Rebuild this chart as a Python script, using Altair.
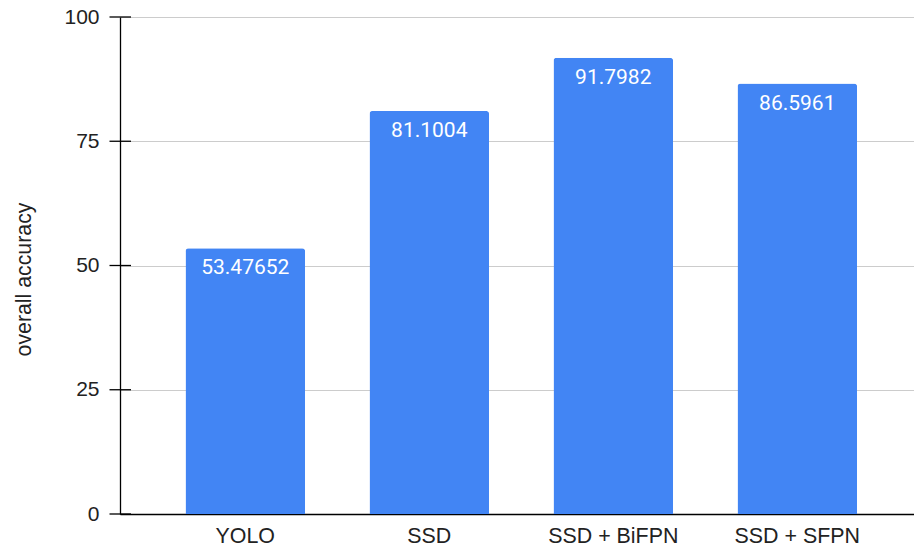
import altair as alt
import pandas as pd

# Model names and their overall accuracy
models = ["YOLO", "SSD", "SSD + BiFPN", "SSD + SFPN"]
accuracy = [53.47652, 81.1004, 91.7982, 86.5961]
value_labels = ["53.47652", "81.1004", "91.7982", "86.5961"]
y_ticks = [0, 25, 50, 75, 100]

df = pd.DataFrame({"model": models, "accuracy": accuracy, "label": value_labels})
ticks_df = pd.DataFrame({"v": y_ticks})

BLUE = "#4285F4"
AXIS_FONT = "Liberation Sans"

x_enc = alt.X(
    "model:N",
    sort=models,
    title=None,
    scale=alt.Scale(paddingInner=0.35, paddingOuter=0.3326, align=0.535),
    axis=alt.Axis(
        labelAngle=0,
        labelFont=AXIS_FONT,
        labelFontSize=21.4,
        labelColor="#222222",
        labelBaseline="alphabetic",
        labelPadding=28,
        ticks=False,
        tickSize=0,
        domainColor="#000000",
        domainWidth=1.3,
        grid=False,
    ),
)

y_scale = alt.Scale(domain=[0, 100], nice=False)

bars = alt.Chart(df).mark_bar(
    color=BLUE, cornerRadiusTopLeft=3, cornerRadiusTopRight=3
).encode(
    x=x_enc,
    y=alt.Y(
        "accuracy:Q",
        scale=y_scale,
        title="overall accuracy",
        axis=alt.Axis(
            values=y_ticks,
            labelFont=AXIS_FONT,
            labelFontSize=21,
            labelColor="#222222",
            labelPadding=21,
            ticks=False,
            domainColor="#000000",
            domainWidth=1.3,
            gridColor="#cccccc",
            gridWidth=1,
            titleFont=AXIS_FONT,
            titleFontSize=21.3,
            titleFontWeight="normal",
            titleColor="#222222",
            titleAngle=-90,
            titleAlign="center",
            titleBaseline="middle",
            titleX=-96,
            titleY=262,
        ),
    ),
)

labels = alt.Chart(df).mark_text(
    font="Roboto", fontSize=21, color="#ffffff", baseline="alphabetic", dy=26
).encode(
    x=alt.X("model:N", sort=models),
    y=alt.Y("accuracy:Q", scale=y_scale),
    text="label:N",
)

# Tick marks crossing the y-axis line
tick_marks = alt.Chart(ticks_df).mark_rule(color="#000000", strokeWidth=1.3).encode(
    y=alt.Y("v:Q", scale=y_scale),
    x=alt.value(-10.5),
    x2=alt.value(11),
)

chart = (
    alt.layer(bars, labels, tick_marks)
    .properties(
        width=794,
        height=497,
        autosize=alt.AutoSizeParams(type="none"),
        padding={"left": 120, "top": 17, "right": 0, "bottom": 32},
    )
    .configure_view(stroke=None)
    .configure(background="#ffffff")
)

chart.save("out.html", embed_options={"renderer": "svg", "actions": False})
